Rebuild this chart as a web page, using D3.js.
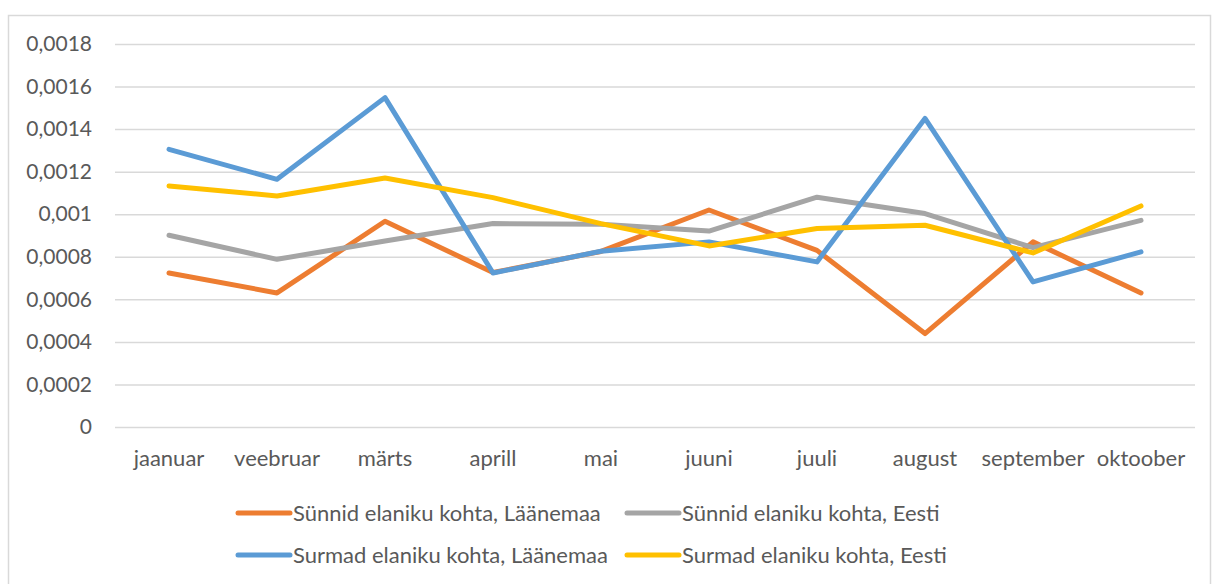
<!DOCTYPE html>
<html>
<head>
<meta charset="utf-8">
<script src="https://cdn.jsdelivr.net/npm/d3@7"></script>
<style>
  html, body { margin: 0; padding: 0; background: #fff; }
  svg { display: block; }
</style>
</head>
<body>
<div id="chart"></div>
<script>
const months = ['jaanuar', 'veebruar', 'märts', 'aprill', 'mai', 'juuni', 'juuli', 'august', 'september', 'oktoober'];

const synnidLaanemaa = [0.000724, 0.00063, 0.000967, 0.000726, 0.000825, 0.00102, 0.00083, 0.000439, 0.00087, 0.00063];
const synnidEesti = [0.000901, 0.000788, 0.000874, 0.000956, 0.000953, 0.000921, 0.00108, 0.001003, 0.000843, 0.000971];
const surmadLaanemaa = [0.001305, 0.001164, 0.001548, 0.000724, 0.000826, 0.00087, 0.000776, 0.00145, 0.000682, 0.000823];
const surmadEesti = [0.001133, 0.001086, 0.00117, 0.001078, 0.000956, 0.000851, 0.000933, 0.000948, 0.000818, 0.001039];

const yTicks = [0, 0.0002, 0.0004, 0.0006, 0.0008, 0.001, 0.0012, 0.0014, 0.0016, 0.0018];
const yTickLabels = ['0', '0,0002', '0,0004', '0,0006', '0,0008', '0,001', '0,0012', '0,0014', '0,0016', '0,0018'];

const seriesNames = [
  'Sünnid elaniku kohta, Läänemaa',
  'Sünnid elaniku kohta, Eesti',
  'Surmad elaniku kohta, Läänemaa',
  'Surmad elaniku kohta, Eesti',
];

const style = {
  font: 'Lato, "Open Sans", sans-serif',
  text: '#595959',
  grid: '#d9d9d9',
  colors: ['#ed7d31', '#a5a5a5', '#5b9bd5', '#ffc000'],
  lineWidth: 5,
  fontSize: 22,
};

const series = [synnidLaanemaa, synnidEesti, surmadLaanemaa, surmadEesti].map((values, i) => ({
  name: seriesNames[i],
  color: style.colors[i],
  values: values.map((v, j) => ({ month: months[j], value: v })),
}));

const W = 1214;
const H = 584;
const plot = { left: 115, right: 1195, top: 44, bottom: 427 };

const svg = d3.select('#chart').append('svg')
  .attr('width', W)
  .attr('height', H)
  .style('font-family', style.font);

// chart frame
svg.append('rect')
  .attr('x', 8.5)
  .attr('y', 15.5)
  .attr('width', W - 12)
  .attr('height', H)
  .attr('fill', '#fff')
  .attr('stroke', style.grid)
  .attr('stroke-width', 1.5);

const x = d3.scaleBand()
  .domain(months)
  .range([plot.left, plot.right])
  .padding(0);

const y = d3.scaleLinear()
  .domain([0, 0.0018])
  .range([plot.bottom, plot.top]);

// y grid + labels
const yAxis = d3.axisLeft(y)
  .tickValues(yTicks)
  .tickFormat((d, i) => yTickLabels[i])
  .tickSize(-(plot.right - plot.left))
  .tickPadding(23);

const gy = svg.append('g')
  .attr('class', 'chart__y-axis')
  .attr('transform', `translate(${plot.left},0)`)
  .call(yAxis);

gy.select('.domain').remove();
gy.selectAll('line')
  .attr('stroke', style.grid)
  .attr('stroke-width', 1.5);
gy.selectAll('text')
  .attr('font-size', 21)
  .attr('fill', style.text)
  .attr('font-family', style.font);

// x labels
const xAxis = d3.axisBottom(x).tickSize(0).tickPadding(23);
const gx = svg.append('g')
  .attr('class', 'chart__x-axis')
  .attr('transform', `translate(0,${plot.bottom})`)
  .call(xAxis);

gx.select('.domain').remove();
gx.selectAll('text')
  .attr('font-size', style.fontSize)
  .attr('fill', style.text)
  .attr('font-family', style.font);

// lines
const line = d3.line()
  .x((d) => x(d.month) + x.bandwidth() / 2)
  .y((d) => y(d.value));

svg.append('g')
  .selectAll('path')
  .data(series)
  .join('path')
  .attr('d', (d) => line(d.values))
  .attr('fill', 'none')
  .attr('stroke', (d) => d.color)
  .attr('stroke-width', style.lineWidth)
  .attr('stroke-linejoin', 'round')
  .attr('stroke-linecap', 'round');

// legend: two rows, two columns
const legendPos = [
  { x: 236, y: 513 },
  { x: 625, y: 513 },
  { x: 236, y: 555 },
  { x: 625, y: 555 },
];

const legend = svg.append('g')
  .selectAll('g')
  .data(series)
  .join('g')
  .attr('transform', (d, i) => `translate(${legendPos[i].x},${legendPos[i].y})`);

legend.append('line')
  .attr('x1', 2)
  .attr('x2', 54)
  .attr('stroke', (d) => d.color)
  .attr('stroke-width', style.lineWidth)
  .attr('stroke-linecap', 'round');

legend.append('text')
  .attr('x', 57)
  .attr('dy', '0.35em')
  .attr('font-size', style.fontSize)
  .attr('fill', style.text)
  .text((d) => d.name);
</script>
</body>
</html>
